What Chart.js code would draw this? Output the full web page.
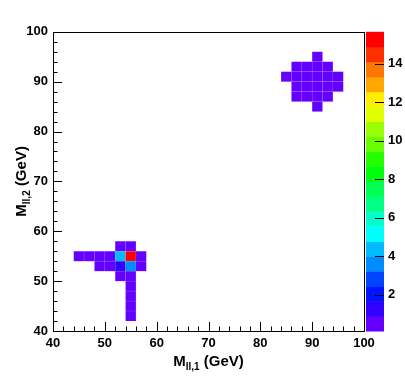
<!DOCTYPE html>
<html>
<head>
<meta charset="utf-8">
<script src="https://cdn.jsdelivr.net/npm/chart.js@4.4.1/dist/chart.umd.min.js"></script>
<style>
    html, body { margin: 0; padding: 0; background: #fff; }
    #wrap { position: relative; width: 405px; height: 381px; }
</style>
</head>
<body>
<div id="wrap"><canvas id="massChart" width="405" height="381"></canvas></div>
<script>
// Bin low edges (GeV) and contents, 2 GeV bins
const binWidth = 2;
const cellX = [52, 54, 44, 46, 48, 50, 52, 54, 56, 48, 50, 52, 54, 56, 52, 54, 54, 54, 54, 54,
               90, 86, 88, 90, 92, 84, 86, 88, 90, 92, 94, 86, 88, 90, 92, 94, 86, 88, 90, 92, 90];
const cellY = [56, 56, 54, 54, 54, 54, 54, 54, 54, 52, 52, 52, 52, 52, 50, 50, 48, 46, 44, 42,
               94, 92, 92, 92, 92, 90, 90, 90, 90, 90, 90, 88, 88, 88, 88, 88, 86, 86, 86, 86, 84];
const cellZ = [0.5, 0.6, 0.4, 0.5, 0.5, 0.6, 4.4, 15.5, 0.5, 0.5, 0.6, 1.3, 3.6, 0.5, 0.6, 0.5, 0.5, 0.4, 0.5, 0.5,
               0.5, 0.4, 0.5, 0.6, 0.5, 0.4, 0.5, 0.6, 0.7, 0.6, 0.4, 0.5, 0.6, 0.6, 0.5, 0.4, 0.5, 0.5, 0.6, 0.5, 0.4];

// Axis ticks
const axisTicks = [40, 50, 60, 70, 80, 90, 100];
const zTicks = [2, 4, 6, 8, 10, 12, 14];
const zMin = 0.12;
const zMax = 15.66;

// 20 contour colours (violet -> red)
const palette = ['#6300ff', '#3300ff', '#0014ff', '#0044ff', '#008bff', '#00bbff', '#00fffc', '#00ffcc',
                 '#00ff85', '#00ff55', '#00ff0e', '#22ff00', '#69ff00', '#99ff00', '#e0ff00', '#ffee00',
                 '#ffa700', '#ff7700', '#ff3000', '#ff0000'];

const FONT = "'Liberation Sans', Arial, sans-serif";

function colorFor(v) {
    const n = palette.length;
    let idx = Math.floor((v - zMin) / (zMax - zMin) * n);
    return palette[Math.max(0, Math.min(n - 1, idx))];
}

// draws text with a subscript, e.g. M_{ll,1} (GeV), centred on 0
function drawSubTitle(ctx, main, sub, rest) {
    ctx.font = 'bold 15px ' + FONT;
    const w1 = ctx.measureText(main).width;
    const w3 = ctx.measureText(rest).width;
    ctx.font = 'bold 10px ' + FONT;
    const w2 = ctx.measureText(sub).width;
    let x = -(w1 + w2 + w3) / 2;
    ctx.textAlign = 'left';
    ctx.textBaseline = 'alphabetic';
    ctx.font = 'bold 15px ' + FONT;
    ctx.fillText(main, x, 0);
    x += w1;
    ctx.font = 'bold 10px ' + FONT;
    ctx.fillText(sub, x, 4);
    x += w2;
    ctx.font = 'bold 15px ' + FONT;
    ctx.fillText(rest, x, 0);
}

const histPlugin = {
    id: 'histPlugin',
    beforeDatasetsDraw(chart) {
        const { ctx, scales: { x, y } } = chart;
        ctx.save();
        cellX.forEach((cx, i) => {
            const x0 = x.getPixelForValue(cx);
            const x1 = x.getPixelForValue(cx + binWidth);
            const y0 = y.getPixelForValue(cellY[i] + binWidth);
            const y1 = y.getPixelForValue(cellY[i]);
            ctx.fillStyle = colorFor(cellZ[i]);
            ctx.fillRect(x0, y0, x1 - x0, y1 - y0);
            ctx.strokeStyle = 'rgba(255,255,255,0.1)';
            ctx.lineWidth = 0.6;
            ctx.strokeRect(x0, y0, x1 - x0, y1 - y0);
        });
        ctx.restore();
    },
    afterDraw(chart) {
        const { ctx, chartArea: a, scales: { x, y, z } } = chart;
        ctx.save();

        // colour palette bar
        const n = palette.length;
        const dz = (zMax - zMin) / n;
        const bx0 = a.right + 2, bx1 = a.right + 20;
        palette.forEach((c, i) => {
            const t = z.getPixelForValue(zMin + (i + 1) * dz);
            const b = z.getPixelForValue(zMin + i * dz);
            ctx.fillStyle = c;
            ctx.fillRect(bx0, t, bx1 - bx0, b - t + 0.5);
        });
        ctx.strokeStyle = '#000';
        ctx.lineWidth = 1;
        ctx.beginPath();
        zTicks.forEach(v => {
            const py = Math.round(z.getPixelForValue(v)) + 0.5;
            ctx.moveTo(bx1, py);
            ctx.lineTo(bx1 - 9, py);
        });
        ctx.stroke();

        // frame
        ctx.strokeRect(Math.round(a.left) + 0.5, Math.round(a.top) + 0.5,
            Math.round(a.right - a.left), Math.round(a.bottom - a.top));

        // inner ticks, minor every 2 GeV
        ctx.beginPath();
        for (let v = 40; v <= 100; v += 2) {
            const len = v % 10 === 0 ? 9 : 4.5;
            const px = Math.round(x.getPixelForValue(v)) + 0.5;
            ctx.moveTo(px, a.bottom);
            ctx.lineTo(px, a.bottom - len);
            const py = Math.round(y.getPixelForValue(v)) + 0.5;
            ctx.moveTo(a.left, py);
            ctx.lineTo(a.left + len, py);
        }
        ctx.stroke();

        // axis titles
        ctx.fillStyle = '#000';
        ctx.save();
        ctx.translate((a.left + a.right) / 2, 366);
        drawSubTitle(ctx, 'M', 'll,1', ' (GeV)');
        ctx.restore();
        ctx.save();
        ctx.translate(26, (a.top + a.bottom) / 2);
        ctx.rotate(-Math.PI / 2);
        drawSubTitle(ctx, 'M', 'll,2', ' (GeV)');
        ctx.restore();

        ctx.restore();
    }
};

document.addEventListener('DOMContentLoaded', () => {
    const tickFont = { family: FONT, size: 13, weight: 'bold' };
    const ctx = document.getElementById('massChart').getContext('2d');

    new Chart(ctx, {
        type: 'scatter',
        data: {
            datasets: [{
                label: 'cells',
                data: cellX.map((cx, i) => ({ x: cx + binWidth / 2, y: cellY[i] + binWidth / 2 })),
                pointRadius: 0
            }]
        },
        options: {
            responsive: false,
            animation: false,
            layout: { padding: { top: 19, right: 0, bottom: 0, left: 0 } },
            plugins: {
                legend: { display: false },
                tooltip: { enabled: false }
            },
            scales: {
                x: {
                    type: 'linear',
                    min: 40,
                    max: 100,
                    afterBuildTicks: s => { s.ticks = axisTicks.map(v => ({ value: v })); },
                    afterFit: s => { s.height = 50; },
                    grid: { display: false, drawTicks: false },
                    border: { display: false },
                    ticks: { font: tickFont, color: '#000', padding: 5, maxRotation: 0 }
                },
                y: {
                    type: 'linear',
                    min: 40,
                    max: 100,
                    afterBuildTicks: s => { s.ticks = axisTicks.map(v => ({ value: v })); },
                    afterFit: s => { s.width = 53; },
                    grid: { display: false, drawTicks: false },
                    border: { display: false },
                    ticks: { font: tickFont, color: '#000', padding: 5 }
                },
                z: {
                    type: 'linear',
                    position: 'right',
                    min: zMin,
                    max: zMax,
                    afterBuildTicks: s => { s.ticks = zTicks.map(v => ({ value: v })); },
                    afterFit: s => { s.width = 41; },
                    grid: { display: false, drawTicks: false },
                    border: { display: false },
                    ticks: { font: tickFont, color: '#000', padding: 24 }
                }
            }
        },
        plugins: [histPlugin]
    });
});
</script>
</body>
</html>
